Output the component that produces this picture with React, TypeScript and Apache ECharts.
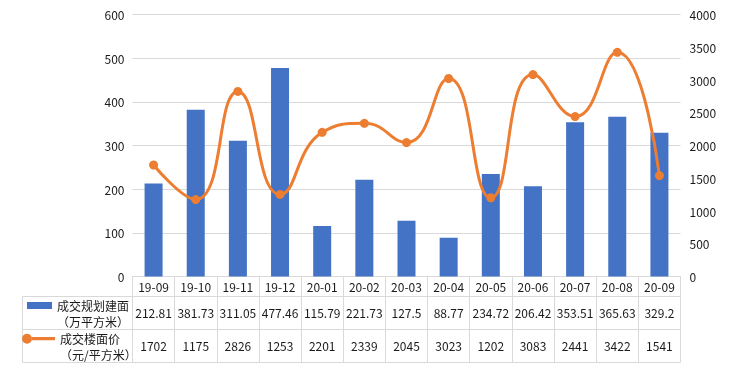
import React, { useEffect, useRef } from "react";
import * as echarts from "echarts";

const categories = ["19-09", "19-10", "19-11", "19-12", "20-01", "20-02", "20-03", "20-04", "20-05", "20-06", "20-07", "20-08", "20-09"];
const areaValues = [212.81, 381.73, 311.05, 477.46, 115.79, 221.73, 127.5, 88.77, 234.72, 206.42, 353.51, 365.63, 329.2];
const priceValues = [1702, 1175, 2826, 1253, 2201, 2339, 2045, 3023, 1202, 3083, 2441, 3422, 1541];
const areaName = "成交规划建面\n（万平方米）";
const priceName = "成交楼面价\n（元/平方米）";

const FONT = "'Noto Sans CJK SC', 'Liberation Sans', sans-serif";
const TEXT = "#1a1a1a";
const LINE = "#d9d9d9";

export default function App() {
  const ref = useRef<HTMLDivElement>(null);
  useEffect(() => {
    const chart = echarts.init(ref.current!, null, { renderer: "svg" });
    const gridLeft = 132.5;
    const gridRight = 729 - 680.5;
    const gridTop = 14.5;
    const gridBottom = 380 - 276.5;
    const tableLeft = 22.5;
    const tableRight = 680.5;
    const rows = [296.5, 329.5, 362.5];
    const graphics: any[] = rows.map((y) => ({
      type: "line",
      shape: { x1: tableLeft, y1: y, x2: tableRight, y2: y },
      style: { stroke: LINE, lineWidth: 1 },
      silent: true,
    }));
    graphics.push({
      type: "line",
      shape: { x1: tableLeft, y1: rows[0], x2: tableLeft, y2: rows[2] },
      style: { stroke: LINE, lineWidth: 1 },
      silent: true,
    });
    const labelStyle = { color: TEXT, fontSize: 12, fontFamily: FONT };
    chart.setOption({
      animation: false,
      grid: { left: gridLeft, right: gridRight, top: gridTop, bottom: gridBottom, containLabel: false },
      legend: [
        {
          data: [{ name: areaName, icon: "path://M0,0H25V7H0Z M0.5,23L0.5,23Z" }],
          left: 27,
          top: 297.5,
          padding: 0,
          itemWidth: 25,
          itemHeight: 23,
          textStyle: { ...labelStyle, lineHeight: 16 },
          selectedMode: false,
        },
        {
          data: [{ name: priceName, icon: "path://M10,3.4H33V6.6H10Z M0,5A5,5 0 1,1 10,5A5,5 0 1,1 0,5Z M0.5,26L0.5,26Z" }],
          left: 22,
          top: 330.7,
          padding: 0,
          itemWidth: 33,
          itemHeight: 26,
          textStyle: { ...labelStyle, lineHeight: 16 },
          selectedMode: false,
        },
      ],
      xAxis: [
        {
          type: "category",
          data: categories,
          boundaryGap: true,
          axisLine: { show: true, lineStyle: { color: LINE, width: 1 } },
          axisTick: { show: true, length: 86, lineStyle: { color: LINE, width: 1 } },
          axisLabel: { ...labelStyle, margin: 4, interval: 0 },
          splitLine: { show: false },
        },
        {
          type: "category",
          data: areaValues.map((v) => String(v)),
          position: "bottom",
          offset: 20,
          axisLine: { show: false },
          axisTick: { show: false },
          axisLabel: { ...labelStyle, margin: 10, interval: 0 },
        },
        {
          type: "category",
          data: priceValues.map((v) => String(v)),
          position: "bottom",
          offset: 53,
          axisLine: { show: false },
          axisTick: { show: false },
          axisLabel: { ...labelStyle, margin: 10, interval: 0 },
        },
      ],
      yAxis: [
        {
          type: "value",
          min: 0,
          max: 600,
          interval: 100,
          axisLine: { show: false },
          axisTick: { show: false },
          axisLabel: { ...labelStyle, margin: 8, formatter: (v: number) => String(v) },
          splitLine: { show: true, lineStyle: { color: LINE, width: 1 } },
        },
        {
          type: "value",
          min: 0,
          max: 4000,
          interval: 500,
          position: "right",
          axisLine: { show: false },
          axisTick: { show: false },
          axisLabel: { ...labelStyle, margin: 9, formatter: (v: number) => String(v) },
          splitLine: { show: false },
        },
      ],
      series: [
        {
          name: areaName,
          type: "bar",
          data: areaValues,
          xAxisIndex: 0,
          yAxisIndex: 0,
          barWidth: 18,
          itemStyle: { color: "#4472C4" },
        },
        {
          name: priceName,
          type: "line",
          data: priceValues,
          xAxisIndex: 0,
          yAxisIndex: 1,
          smooth: 0.5,
          symbol: "circle",
          symbolSize: 9,
          lineStyle: { color: "#ED7D31", width: 3 },
          itemStyle: { color: "#ED7D31" },
        },
      ],
      graphic: graphics,
    });
    return () => chart.dispose();
  }, []);
  return <div ref={ref} style={{ position: "fixed", left: 0, top: 0, width: 729, height: 380 }} />;
}
